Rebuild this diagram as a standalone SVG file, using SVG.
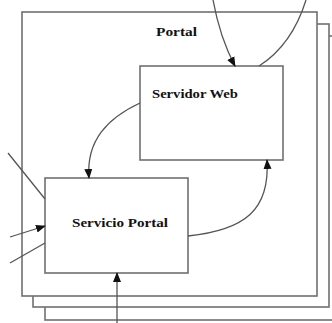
<svg xmlns="http://www.w3.org/2000/svg" width="332" height="323" viewBox="0 0 332 323">
<style>
.box{fill:#fff;stroke:#707070;stroke-width:1.6}
.lbl{font-family:"Liberation Serif",serif;font-weight:bold;font-size:12px;fill:#111}
.c{fill:none;stroke:#555;stroke-width:1.3}
</style>
<defs>
<marker id="ah" markerUnits="userSpaceOnUse" markerWidth="10" markerHeight="10" viewBox="0 0 10 10" refX="9" refY="5" orient="auto">
<path d="M0,1 L10,5 L0,9 Z" fill="#111"/>
</marker>
</defs>
<rect width="332" height="323" fill="#fff"/>
<g id="portal-stack-3"><rect class="box" x="45" y="36" width="300" height="284"/></g>
<g id="portal-stack-2"><rect class="box" x="33" y="24" width="296" height="283"/></g>
<g id="portal">
<rect class="box" x="22" y="12" width="295" height="284"/>
<text class="lbl" x="156" y="36" textLength="41" lengthAdjust="spacingAndGlyphs">Portal</text>
</g>
<g id="servidor-web">
<rect class="box" x="140" y="66" width="143" height="94"/>
<text class="lbl" x="152" y="98" textLength="86" lengthAdjust="spacingAndGlyphs">Servidor Web</text>
</g>
<g id="servicio-portal">
<rect class="box" x="45" y="178" width="143" height="95"/>
<text class="lbl" x="72" y="227" textLength="96" lengthAdjust="spacingAndGlyphs">Servicio Portal</text>
</g>
<g id="connectors">
<path class="c" d="M213,0 Q220,38 235,66" marker-end="url(#ah)"/>
<path class="c" d="M306,0 Q292,45 259,66"/>
<path class="c" d="M140,103 C108,118 86,140 89,178" marker-end="url(#ah)"/>
<path class="c" d="M188,236 C245,230 270,210 267,160" marker-end="url(#ah)"/>
<path class="c" d="M117,323 L117,273" marker-end="url(#ah)"/>
<path class="c" d="M8,153 L45,199"/>
<path class="c" d="M10,237 L45,226" marker-end="url(#ah)"/>
<path class="c" d="M10,263 L45,243"/>
</g>
</svg>
